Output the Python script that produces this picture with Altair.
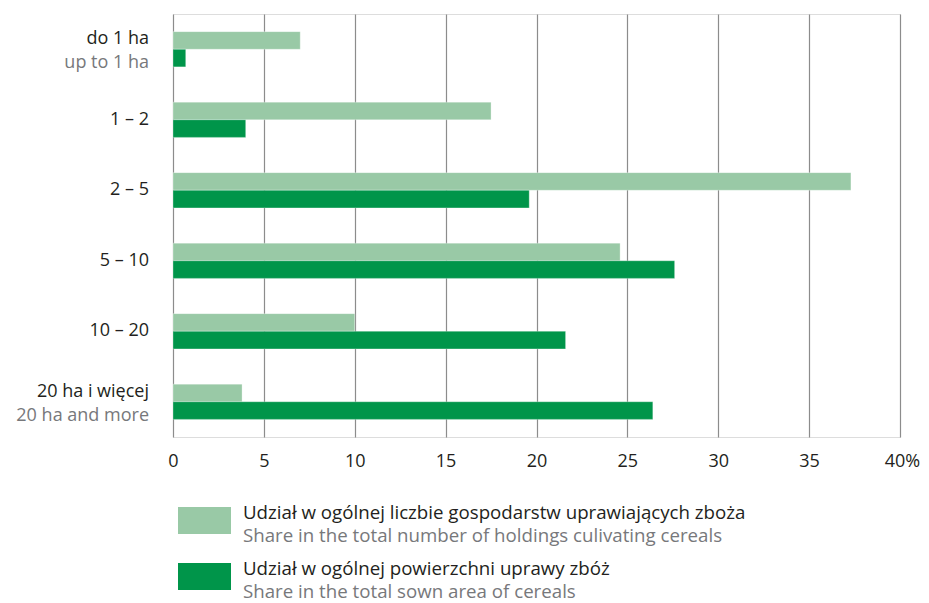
import altair as alt
import pandas as pd

categories = ["do 1 ha", "1 – 2", "2 – 5", "5 – 10", "10 – 20", "20 ha i więcej"]
categories_en = ["up to 1 ha", "", "", "", "", "20 ha and more"]
holdings_share = [7.0, 17.5, 37.3, 24.6, 10.0, 3.8]
area_share = [0.7, 4.0, 19.6, 27.6, 21.6, 26.4]
series_pl = ["Udział w ogólnej liczbie gospodarstw uprawiających zboża",
             "Udział w ogólnej powierzchni uprawy zbóż"]
series_en = ["Share in the total number of holdings culivating cereals",
             "Share in the total sown area of cereals"]
x_ticks = [0, 5, 10, 15, 20, 25, 30, 35, 40]

LIGHT = "#99c9a6"
DARK = "#00954a"
TXT = "#231f20"
GREY = "#77787b"
FONT = "Open Sans"
FS = 18
LFS = 18.7
W, H = 727, 423

rows = []
for c, a, b in zip(categories, holdings_share, area_share):
    rows.append({"cat": c, "series": series_pl[0], "val": a})
    rows.append({"cat": c, "series": series_pl[1], "val": b})
bars_df = pd.DataFrame(rows)

lab_df = pd.DataFrame({"cat": categories, "en": categories_en})
lab_df["two"] = lab_df["en"] != ""

yscale = alt.Scale(domain=categories, paddingInner=0.5, paddingOuter=0.25)
xscale = alt.Scale(domain=[0, 40], nice=False)

bars = alt.Chart(bars_df).mark_bar(stroke="white", strokeWidth=0.6, strokeOpacity=0.5).encode(
    y=alt.Y("cat:N", scale=yscale, axis=None, sort=categories),
    yOffset=alt.YOffset("series:N", sort=series_pl, scale=alt.Scale(paddingInner=0, paddingOuter=0)),
    x=alt.X("val:Q", scale=xscale,
            axis=alt.Axis(values=x_ticks, title=None, domain=False, ticks=False,
                          grid=True, gridColor="#8c8c8c", gridWidth=1.2,
                          labelFont=FONT, labelFontSize=FS, labelColor=TXT,
                          labelPadding=15, labelFlush=False,
                          labelOffset={"condition": {"test": "datum.value == 40", "value": 2}, "value": 0},
                          labelExpr="datum.value == 40 ? '40%' : datum.label")),
    color=alt.Color("series:N", scale=alt.Scale(domain=series_pl, range=[LIGHT, DARK]), legend=None),
)

base_lab = alt.Chart(lab_df)
lab_single = base_lab.transform_filter("!datum.two").mark_text(
    align="right", baseline="middle", font=FONT, fontSize=FS, color=TXT, dx=-24
).encode(y=alt.Y("cat:N", scale=yscale, sort=categories), x=alt.value(0), text="cat:N")
lab_top = base_lab.transform_filter("datum.two").mark_text(
    align="right", baseline="middle", font=FONT, fontSize=FS, color=TXT, dx=-24, dy=-10
).encode(y=alt.Y("cat:N", scale=yscale, sort=categories), x=alt.value(0), text="cat:N")
lab_bot = base_lab.transform_filter("datum.two").mark_text(
    align="right", baseline="middle", font=FONT, fontSize=FS, color=GREY, dx=-24, dy=14
).encode(y=alt.Y("cat:N", scale=yscale, sort=categories), x=alt.value(0), text="en:N")

legend_layers = []
colors = [LIGHT, DARK]
for i in range(2):
    top = 493 + 56 * i
    legend_layers.append(
        alt.Chart(pd.DataFrame({"t": [series_pl[i]]})).mark_rect(color=colors[i]).encode(
            x=alt.value(5), x2=alt.value(58), y=alt.value(top), y2=alt.value(top + 27))
    )
    legend_layers.append(
        alt.Chart(pd.DataFrame({"t": [series_pl[i]]})).mark_text(
            align="left", baseline="middle", font=FONT, fontSize=LFS, color=TXT
        ).encode(x=alt.value(70), y=alt.value(top + 6), text="t:N")
    )
    legend_layers.append(
        alt.Chart(pd.DataFrame({"t": [series_en[i]]})).mark_text(
            align="left", baseline="middle", font=FONT, fontSize=LFS, color=GREY
        ).encode(x=alt.value(70), y=alt.value(top + 29), text="t:N")
    )

chart = alt.layer(bars, lab_single, lab_top, lab_bot, *legend_layers).properties(
    width=W, height=H,
    autosize=alt.AutoSizeParams(type="none"),
    padding={"left": 165, "top": 6, "right": 21, "bottom": 166},
).configure_view(stroke=None).configure(background="white")

chart.save("out.html", embed_options={"renderer": "svg", "actions": False})
